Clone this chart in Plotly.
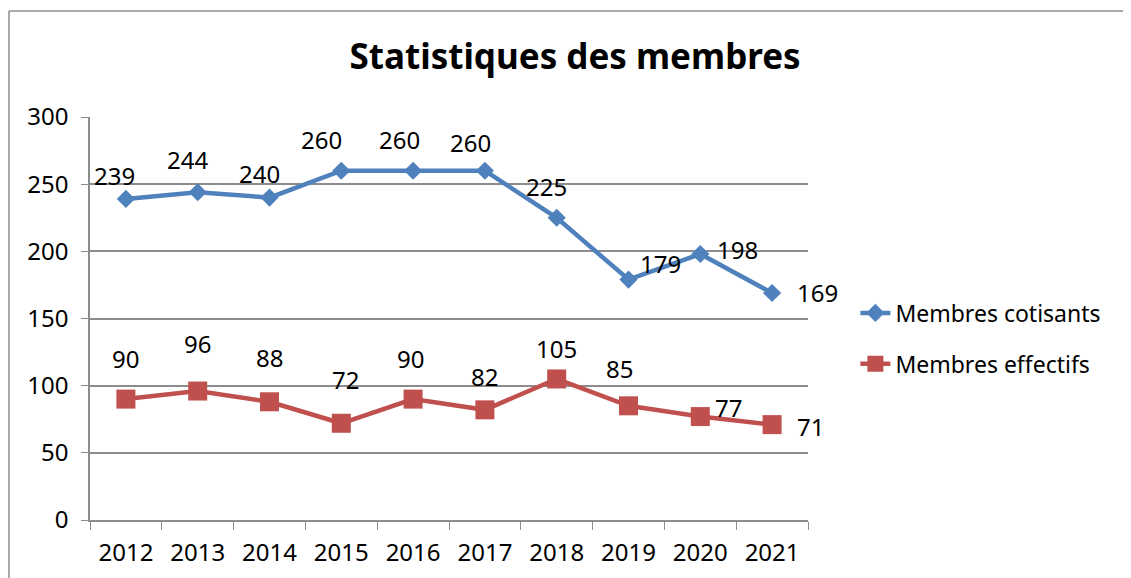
import plotly.graph_objects as go

# data
years = [2012, 2013, 2014, 2015, 2016, 2017, 2018, 2019, 2020, 2021]
cotisants = [239, 244, 240, 260, 260, 260, 225, 179, 198, 169]
effectifs = [90, 96, 88, 72, 90, 82, 105, 85, 77, 71]

# label offsets (pixels) relative to each point, as placed in the original
cot_shift = [(-11, 23), (-10, 33), (-10, 24), (-20, 31), (-14, 31),
             (-14, 28), (-10, 31), (32, 16), (37, 5), (45, 0)]
eff_shift = [(0, 41), (0, 48), (0, 44), (4, 44), (-3, 41),
             (0, 33), (0, 30), (-9, 37), (28, 9), (38, -2)]

BLUE = "#4F81BD"
RED = "#C0504D"
GRID = "#8c8c8c"
FONT = "Noto Sans"

fig = go.Figure()

fig.add_trace(go.Scatter(
    x=years, y=cotisants,
    mode="lines+markers",
    name="Membres cotisants",
    legendgroup="a",
    line=dict(color=BLUE, width=4.5),
    marker=dict(symbol="diamond", size=14, color=BLUE),
))
fig.add_trace(go.Scatter(
    x=years, y=effectifs,
    mode="lines+markers",
    name="Membres effectifs",
    legendgroup="b",
    line=dict(color=RED, width=4.5),
    marker=dict(symbol="square", size=19, color=RED),
))

# data labels
for vals, shifts in ((cotisants, cot_shift), (effectifs, eff_shift)):
    for yr, v, (dx, dy) in zip(years, vals, shifts):
        fig.add_annotation(
            x=yr, y=v, text=str(v), showarrow=False,
            xshift=dx, yshift=dy,
            font=dict(family=FONT, size=24, color="black"),
        )

# outer chart frame: only the left and top edges are on the page
fig.add_shape(type="line", xref="paper", yref="paper",
              x0=-0.1128, x1=-0.1128, y0=-0.2, y1=1.263,
              line=dict(color=GRID, width=1.5), layer="below")
fig.add_shape(type="line", xref="paper", yref="paper",
              x0=-0.1128, x1=1.6, y0=1.263, y1=1.263,
              line=dict(color=GRID, width=1.5), layer="below")

# page body adds an 8px margin, so the figure is 8px smaller on each side
fig.update_layout(
    width=1123, height=570,
    paper_bgcolor="white", plot_bgcolor="white",
    margin=dict(l=82, r=323, t=109, b=58, autoexpand=False),
    font=dict(family=FONT, size=24, color="black"),
    title=dict(
        text="<b>Statistiques des membres</b>",
        x=0.505, xref="container", xanchor="center",
        y=0.914, yref="container", yanchor="middle",
        font=dict(family=FONT, size=35, color="black"),
    ),
    legend=dict(
        x=1.066, xanchor="left", y=0.567, yanchor="top",
        font=dict(family=FONT, size=23),
        tracegroupgap=18, bgcolor="rgba(0,0,0,0)",
    ),
    showlegend=True,
)

fig.update_xaxes(
    range=[2011.5, 2021.5], tickvals=years, ticks="",
    showgrid=False, zeroline=False,
    showline=True, linecolor=GRID, linewidth=1.5,
    minor=dict(ticks="outside", tick0=2011.5, dtick=1, ticklen=8,
               tickcolor=GRID, showgrid=False),
    ticklabelstandoff=10,
    tickfont=dict(family=FONT, size=24),
)
fig.update_yaxes(
    range=[0, 300], dtick=50,
    showgrid=True, gridcolor=GRID, gridwidth=1.5,
    showline=True, linecolor=GRID, linewidth=1.5,
    ticks="outside", ticklen=7, tickcolor=GRID,
    ticklabelstandoff=8,
    tickfont=dict(family=FONT, size=24),
    zeroline=False,
)

fig.write_html("out.html")
